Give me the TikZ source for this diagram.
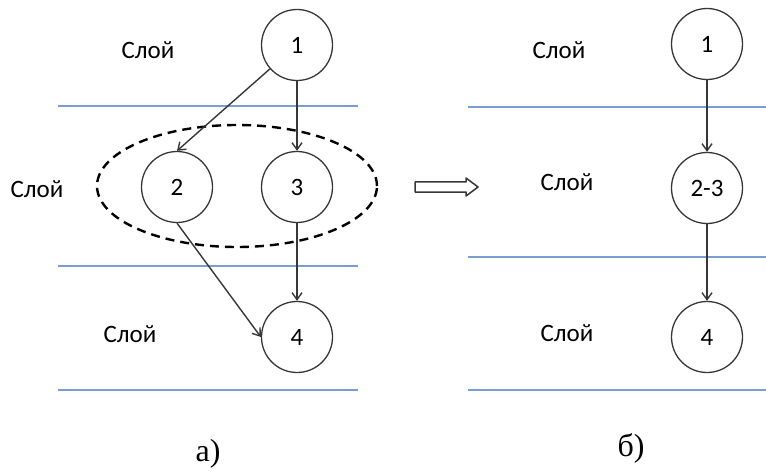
\documentclass[tikz,border=0pt]{standalone}
\usepackage{fontspec}
\setmainfont{Carlito}
\newfontfamily\capfont{Liberation Serif}
\usetikzlibrary{arrows.meta,shapes.geometric}
\definecolor{layerblue}{RGB}{120,158,210}
\definecolor{edgegray}{RGB}{55,55,55}
\tikzset{
  vertex/.style={circle, draw=edgegray, line width=1.3pt, minimum size=71pt, inner sep=0pt, font=\fontsize{25}{25}\selectfont},
  layertext/.style={font=\fontsize{25}{25}\selectfont, inner sep=0pt},
  layerline/.style={draw=layerblue, line width=1.5pt},
  edge/.style={draw=edgegray, line width=1.4pt, -{Straight Barb[length=7pt,width=10pt]}},
  captext/.style={font=\capfont\fontsize{32}{32}\selectfont, inner sep=0pt},
  bigarrow/.style={draw=edgegray, line width=1.5pt, line join=round, fill=white}
}
\begin{document}
\begin{tikzpicture}[x=1pt,y=-1pt]
\useasboundingbox (0,0) rectangle (766,476);
% left panel layer lines
\coordinate (la1) at (58,106); \coordinate (lb1) at (358,106);
\coordinate (la2) at (58,266); \coordinate (lb2) at (358,266);
\coordinate (la3) at (58,390); \coordinate (lb3) at (358,390);
\draw[layerline] (la1) -- (lb1);
\draw[layerline] (la2) -- (lb2);
\draw[layerline] (la3) -- (lb3);
% right panel layer lines
\coordinate (ra1) at (468,107); \coordinate (rb1) at (766,107);
\coordinate (ra2) at (468,257); \coordinate (rb2) at (766,257);
\coordinate (ra3) at (468,390); \coordinate (rb3) at (766,390);
\draw[layerline] (ra1) -- (rb1);
\draw[layerline] (ra2) -- (rb2);
\draw[layerline] (ra3) -- (rb3);
% left labels
\node[layertext] (lt1) at (148,50) {Слой};
\node[layertext] (lt2) at (37,189) {Слой};
\node[layertext] (lt3) at (130,334) {Слой};
% right labels
\node[layertext] (rt1) at (559,50) {Слой};
\node[layertext] (rt2) at (567,182) {Слой};
\node[layertext] (rt3) at (567,333) {Слой};
% left graph
\node[vertex] (n1) at (297,45) {1};
\node[vertex] (n2) at (177,187) {2};
\node[vertex] (n3) at (297,187) {3};
\node[vertex] (n4) at (297,337) {4};
\node[ellipse, draw=black, line width=2.4pt, dash pattern=on 9pt off 6pt, minimum width=280pt, minimum height=122pt, inner sep=0pt] (grp) at (237,186) {};
\draw[edge] (n1) -- (n2.north);
\draw[edge] (n1) -- (n3);
\draw[edge] (n2.south) -- (n4.west);
\draw[edge] (n3) -- (n4);
% transform arrow
\draw[bigarrow] (415,182) -- (466,182) -- (466,178) -- (478,187) -- (466,196) -- (466,192) -- (415,192) -- cycle;
% right graph
\node[vertex] (m1) at (707,44) {1};
\node[vertex] (m2) at (707,188) {2-3};
\node[vertex] (m3) at (707,337) {4};
\draw[edge] (m1) -- (m2);
\draw[edge] (m2) -- (m3);
% captions
\node[captext] (ca) at (208,454) {а)};
\node[captext] (cb) at (631,448) {б)};
\end{tikzpicture}
\end{document}
